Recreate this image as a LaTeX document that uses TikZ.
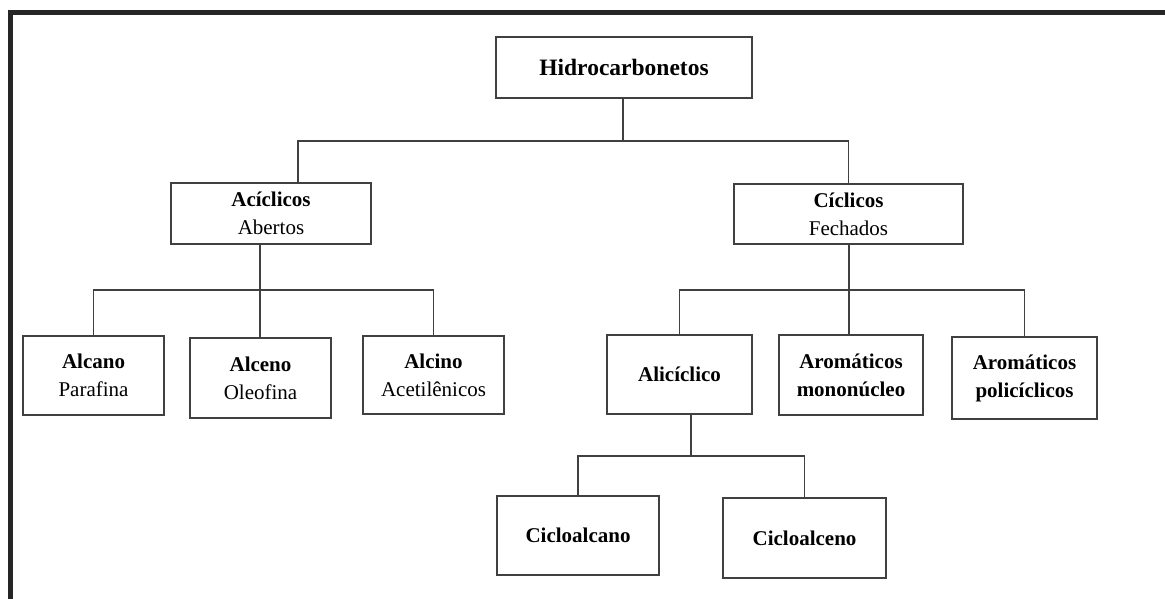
\documentclass[tikz,border=0pt]{standalone}
\usepackage{fontspec}
\setmainfont{Liberation Serif}
\usetikzlibrary{calc}
\begin{document}
\begin{tikzpicture}[x=1pt,y=-1pt,
  box/.style={draw=black!75, line width=1.6pt, rectangle, align=center, inner sep=0pt,
    font=\fontsize{21}{28}\selectfont},
  conn/.style={draw=black!75, line width=1.6pt},
  frame/.style={draw=black!85, line width=5pt}]
\useasboundingbox (0,0) rectangle (1165,598);
\draw[frame] (10.5,600) -- (10.5,12.5) -- (1167,12.5);
% nodes
\node[box, minimum width=256pt, minimum height=61pt] (hc) at (624,67.5) {\fontsize{23.5}{28}\selectfont\textbf{Hidrocarbonetos}};
\node[box, minimum width=200pt, minimum height=61pt] (acic) at (271,213.5) {\textbf{Acíclicos}\\Abertos};
\node[box, minimum width=229pt, minimum height=60pt] (cic) at (848.5,214) {\textbf{Cíclicos}\\Fechados};
\node[box, minimum width=141pt, minimum height=79pt] (alcano) at (93.5,375.5) {\textbf{Alcano}\\Parafina};
\node[box, minimum width=141pt, minimum height=80pt] (alceno) at (260.5,378) {\textbf{Alceno}\\Oleofina};
\node[box, minimum width=141pt, minimum height=78pt] (alcino) at (433.5,375) {\textbf{Alcino}\\Acetilênicos};
\node[box, minimum width=145pt, minimum height=79pt] (alic) at (679.5,374.5) {\textbf{Alicíclico}};
\node[box, minimum width=144pt, minimum height=80pt] (arom) at (851,375) {\textbf{Aromáticos}\\\textbf{mononúcleo}};
\node[box, minimum width=145pt, minimum height=82pt] (pol) at (1024.5,378) {\textbf{Aromáticos}\\\textbf{policíclicos}};
\node[box, minimum width=162pt, minimum height=79pt] (cal) at (578,535.5) {\textbf{Cicloalcano}};
\node[box, minimum width=163pt, minimum height=80pt] (cel) at (804.5,538) {\textbf{Cicloalceno}};
% bus points
\coordinate (bus1) at (623,141);
\coordinate (bus2) at (260,290);
\coordinate (bus3) at (849,290);
\coordinate (bus4) at (691,456);
% connectors
\draw[conn] (hc.south -| bus1) -- (bus1);
\draw[conn] ($(acic.north)+(27,0)$) |- (bus1) -| (cic.north);
\draw[conn] (acic.south -| bus2) -- (bus2);
\draw[conn] (alcano.north) |- (bus2) -| (alcino.north);
\draw[conn] (bus2) -- (alceno.north -| bus2);
\draw[conn] (cic.south -| bus3) -- (bus3);
\draw[conn] (alic.north) |- (bus3) -| (pol.north);
\draw[conn] (bus3) -- (arom.north -| bus3);
\draw[conn] (alic.south -| bus4) -- (bus4);
\draw[conn] (cal.north) |- (bus4) -| (cel.north);
\end{tikzpicture}
\end{document}
